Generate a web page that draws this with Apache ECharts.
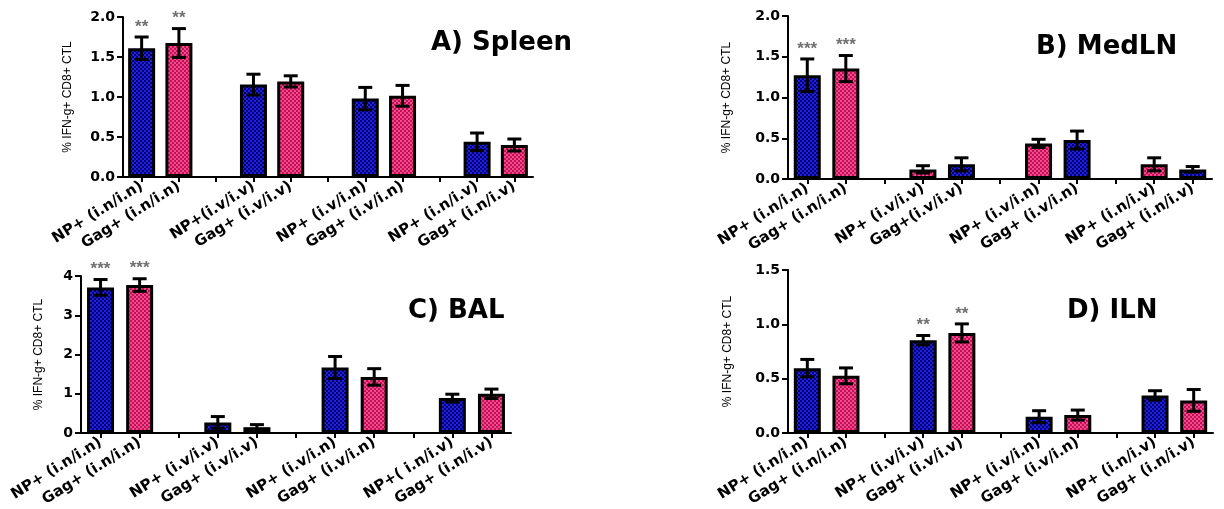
<!DOCTYPE html>
<html><head><meta charset="utf-8">
<script src="https://cdn.jsdelivr.net/npm/echarts@6/dist/echarts.min.js"></script>
<style>html,body{margin:0;padding:0;background:#fff}#c{width:1224px;height:509px}</style>
</head><body><div id="c"></div>
<script>
// ---------- data ----------
const labelsA = ["NP+ (i.n/i.n)","Gag+ (i.n/i.n)","NP+(i.v/i.v)","Gag+ (i.v/i.v)","NP+ (i.v/i.n)","Gag+ (i.v/i.n)","NP+ (i.n/i.v)","Gag+ (i.n/i.v)"];
const valuesA = [1.61,1.675,1.155,1.195,0.98,1.015,0.44,0.40];
const errorsA = [0.14,0.18,0.13,0.07,0.14,0.13,0.11,0.075];
const colorsA = ["b","p","b","p","b","p","b","p"];
const starsA  = ["**","**","","","","","",""];

const labelsB = ["NP+ (i.n/i.n)","Gag+ (i.n/i.n)","NP+ (i.v/i.v)","Gag+(i.v/i.v)","NP+ (i.v/i.n)","Gag+ (i.v/i.n)","NP+ (i.n/i.v)","Gag+ (i.n/i.v)"];
const valuesB = [1.273,1.355,0.118,0.18,0.437,0.478,0.18,0.118];
const errorsB = [0.2,0.16,0.045,0.08,0.05,0.11,0.08,0.035];
const colorsB = ["b","p","p","b","p","b","p","b"];
const starsB  = ["***","***","","","","","",""];

const labelsC = ["NP+ (i.n/i.n)","Gag+ (i.n/i.n)","NP+ (i.v/i.v)","Gag+ (i.v/i.v)","NP+ (i.v/i.n)","Gag+ (i.v/i.n)","NP+( i.n/i.v)","Gag+ (i.n/i.v)"];
const valuesC = [3.71,3.77,0.27,0.15,1.67,1.43,0.89,1.0];
const errorsC = [0.2,0.16,0.15,0.065,0.28,0.21,0.1,0.12];
const colorsC = ["b","p","b","p","b","p","b","p"];
const starsC  = ["***","***","","","","","",""];

const labelsD = ["NP+ (i.n/i.n)","Gag+ (i.n/i.n)","NP+ (i.v/i.v)","Gag+ (i.v/i.v)","NP+ (i.v/i.n)","Gag+ (i.v/i.n)","NP+ (i.n/i.v)","Gag+ (i.n/i.v)"];
const valuesD = [0.597,0.526,0.854,0.921,0.15,0.165,0.346,0.30];
const errorsD = [0.08,0.073,0.043,0.083,0.055,0.046,0.043,0.1];
const colorsD = ["b","p","b","p","b","p","b","p"];
const starsD  = ["","","**","**","","","",""];

const titles = ["A) Spleen","B) MedLN","C) BAL","D) ILN"];
const yName = "% IFN-g+ CD8+ CTL";
const yMax = [2.0,2.0,4,1.5];
const yStep = [0.5,0.5,1,0.5];

// ---------- styling ----------
function pat(c1,c2){
  const cv=document.createElement('canvas'); cv.width=cv.height=4;
  const x=cv.getContext('2d'); x.fillStyle=c1; x.fillRect(0,0,4,4);
  x.fillStyle=c2; x.fillRect(0,0,2,2); x.fillRect(2,2,2,2);
  return {image:cv, repeat:'repeat'};
}
const fills = {b: pat('#2020e0','#000070'), p: pat('#c80c58','#ea4f8c')};

const panels = [
  {labels:labelsA, values:valuesA, errors:errorsA, colors:colorsA, stars:starsA,
   grid:{left:123, top:17, width:410, height:160}, gap:49, title:{left:426, top:25}, dec:1},
  {labels:labelsB, values:valuesB, errors:errorsB, colors:colorsB, stars:starsB,
   grid:{left:788, top:16, width:424, height:163}, gap:55, title:{left:1031, top:29}, dec:1},
  {labels:labelsC, values:valuesC, errors:errorsC, colors:colorsC, stars:starsC,
   grid:{left:81, top:276, width:430, height:163}, gap:36, title:{left:403, top:293}, dec:0},
  {labels:labelsD, values:valuesD, errors:errorsD, colors:colorsD, stars:starsD,
   grid:{left:788, top:270, width:425, height:163}, gap:54, title:{left:1062, top:293}, dec:1}
];

function withGaps(arr, gapVal){
  const out=[];
  arr.forEach((v,i)=>{ out.push(v); if(i%2===1 && i<arr.length-1) out.push(gapVal); });
  return out;
}
function slotIndex(i){ return i + Math.floor(i/2); }

const option = {animation:false, grid:[], xAxis:[], yAxis:[], series:[], title:[]};
panels.forEach((p,k)=>{
  option.grid.push(Object.assign({containLabel:false}, p.grid));
  option.title.push({text:titles[k], left:p.title.left, top:p.title.top,
    textStyle:{fontFamily:'DejaVu Sans', fontWeight:'bold', fontSize:26, color:'#000'}});
  option.xAxis.push({type:'category', gridIndex:k, data:withGaps(p.labels,''),
    axisLine:{lineStyle:{color:'#000', width:2}},
    axisTick:{show:true, interval:0, alignWithLabel:true, length:5, lineStyle:{color:'#000', width:2}},
    axisLabel:{interval:0, rotate:32, margin:8, color:'#000', fontFamily:'DejaVu Sans', fontWeight:'bold', fontSize:15},
    splitLine:{show:false}});
  option.yAxis.push({type:'value', gridIndex:k, min:0, max:yMax[k], interval:yStep[k],
    name:yName, nameLocation:'middle', nameGap:p.gap, nameRotate:90,
    nameTextStyle:{fontFamily:"'Liberation Sans',Arial,sans-serif", fontSize:12, color:'#000'},
    axisLine:{show:true, lineStyle:{color:'#000', width:2}},
    axisTick:{show:true, length:6, lineStyle:{color:'#000', width:2}},
    axisLabel:{color:'#000', fontFamily:'DejaVu Sans', fontWeight:'bold', fontSize:14, margin:8,
      formatter: v => v.toFixed(p.dec)},
    splitLine:{show:false}});
  const barData = withGaps(p.values.map((v,i)=>({value:v, itemStyle:{color:fills[p.colors[i]]}})), '-');
  option.series.push({type:'bar', xAxisIndex:k, yAxisIndex:k, data:barData, barWidth:27,
    itemStyle:{borderColor:'#000', borderWidth:3}, z:2});
  const errData = p.values.map((v,i)=>[slotIndex(i), v, p.errors[i], i]);
  option.series.push({type:'custom', xAxisIndex:k, yAxisIndex:k, data:errData, z:5, clip:false,
    renderItem:(params, api)=>{
      const x=api.value(0), v=api.value(1), e=api.value(2), i=api.value(3);
      const t=api.coord([x, v+e]), b=api.coord([x, v-e]);
      const hw=7, ls={stroke:'#000', lineWidth:3};
      const ch=[
        {type:'line', shape:{x1:t[0],y1:t[1],x2:b[0],y2:b[1]}, style:ls},
        {type:'line', shape:{x1:t[0]-hw,y1:t[1],x2:t[0]+hw,y2:t[1]}, style:ls},
        {type:'line', shape:{x1:b[0]-hw,y1:b[1],x2:b[0]+hw,y2:b[1]}, style:ls}
      ];
      const s=p.stars[i];
      if(s){ ch.push({type:'text', style:{text:s, x:t[0], y:t[1]-10, align:'center', verticalAlign:'middle',
        fill:'#707070', font:'bold 17px Arial'}}); }
      return {type:'group', children:ch};
    }});
});
const chart = echarts.init(document.getElementById('c'), null, {renderer:'canvas'});
chart.setOption(option);
</script></body></html>
